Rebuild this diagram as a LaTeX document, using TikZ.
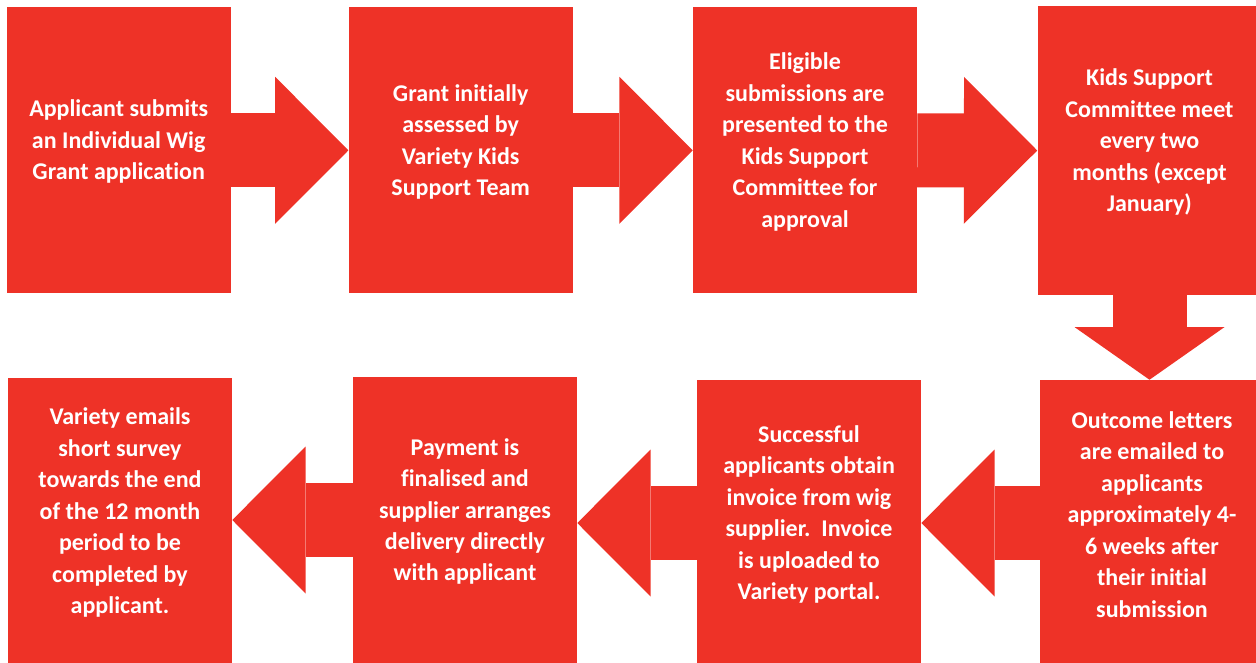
\documentclass[tikz,border=0pt]{standalone}
\usepackage{fontspec}
\setmainfont{Carlito}[Ligatures=NoCommon]
\usetikzlibrary{arrows.meta,calc}
\definecolor{varietyred}{RGB}{238,50,39}
\tikzset{
  stepbox/.style={fill=varietyred,draw=none,inner sep=0pt,minimum width=168pt,minimum height=214.5pt},
  steptext/.style={text=white,inner sep=0pt,align=center,font=\fontsize{18}{23.6}\selectfont\bfseries},
  flowarrow/.style={draw=varietyred,line width=55.5pt,-{Triangle[length=55pt,width=110.25pt,line width=0pt]}},
  downarrow/.style={draw=varietyred,line width=55.5pt,-{Triangle[length=39.5pt,width=112.5pt,line width=0pt]}}
}
\begin{document}
\begin{tikzpicture}[x=0.75pt,y=0.75pt,yscale=-1,xscale=1]
\useasboundingbox (0,0) rectangle (1256,662);

%Shape: Rectangle [id:step1]
\node[stepbox] (b1) at (118.7,150.3) {};
%Shape: Rectangle [id:step2]
\node[stepbox] (b2) at (460.7,150.3) {};
%Shape: Rectangle [id:step3]
\node[stepbox] (b3) at (805,150.3) {};
%Shape: Rectangle [id:step4]
\node[stepbox,minimum height=216.75pt] (b4) at (1149.5,150.5) {};
%Shape: Rectangle [id:step5]
\node[stepbox] (b5) at (1152,523) {};
%Shape: Rectangle [id:step6]
\node[stepbox] (b6) at (809,523) {};
%Shape: Rectangle [id:step7]
\node[stepbox] (b7) at (465,520) {};
%Shape: Rectangle [id:step8]
\node[stepbox] (b8) at (120,521.3) {};

%Block Arrows
\draw[flowarrow] (b1.east) -- (b2.west);
\draw[flowarrow] (b2.east) -- (b3.west);
\draw[flowarrow] (b3.east) -- (b4.west);
\draw[downarrow] (b4.south) -- (b4.south |- b5.north);
\draw[flowarrow] (b5.west) -- (b6.east);
\draw[flowarrow] (b6.west) -- (b6.west -| b7.east);
\draw[flowarrow] (b7.west) -- (b7.west -| b8.east);

% Text Node
\node[steptext] (t1) at ($(b1.center)+(0,-8.5)$) {Applicant submits\\an Individual Wig\\Grant application};
% Text Node
\node[steptext] (t2) at ($(b2.center)+(0,-8.5)$) {Grant initially\\assessed by\\Variety Kids\\Support Team};
% Text Node
\node[steptext] (t3) at ($(b3.center)+(0,-8.5)$) {Eligible\\submissions are\\presented to the\\Kids Support\\Committee for\\approval};
% Text Node
\node[steptext] (t4) at ($(b4.center)+(0,-8.5)$) {Kids Support\\Committee meet\\every two\\months (except\\January)};
% Text Node
\node[steptext] (t5) at ($(b5.center)+(0,-8.5)$) {Outcome letters\\are emailed to\\applicants\\approximately 4-\\6 weeks after\\their initial\\submission};
% Text Node
\node[steptext] (t6) at ($(b6.center)+(0,-8.5)$) {Successful\\applicants obtain\\invoice from wig\\supplier.\ \ Invoice\\is uploaded to\\Variety portal.};
% Text Node
\node[steptext] (t7) at ($(b7.center)+(0,-8.5)$) {Payment is\\finalised and\\supplier arranges\\delivery directly\\with applicant};
% Text Node
\node[steptext] (t8) at ($(b8.center)+(0,-8.5)$) {Variety emails\\short survey\\towards the end\\of the 12 month\\period to be\\completed by\\applicant.};

\end{tikzpicture}
\end{document}
